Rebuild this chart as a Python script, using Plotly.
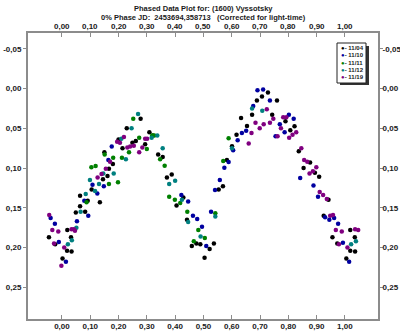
import plotly.graph_objects as go

# ---------------- data ----------------
series_names = ["11/04", "11/10", "11/11", "11/12", "11/19"]
series_colors = ["#000000", "#0000a0", "#008000", "#008080", "#800080"]

phase_1104 = [0.200, 0.214, 0.150, 0.180, 0.166, 0.161, 0.145, 0.105, 0.064, 0.091, 0.134, 0.064,
              0.049, 0.082, 0.019, -0.046, 0.032, -0.024, 0.018, 0.034, 0.002,
              0.278, 0.229, 0.309, 0.321, 0.261, 0.249, 0.294, 0.340, 0.356, 0.388, 0.371, 0.429,
              0.405, 0.442, 0.475, 0.489, 0.459, 0.504,
              0.728, 0.707, 0.689, 0.760, 0.672, 0.743, 0.633, 0.654, 0.617, 0.601, 0.583, 0.569,
              0.554, 0.537, 0.522,
              0.790, 0.822, 0.807, 0.837, 0.877, 0.854, 0.894, 0.909, 0.942, 0.925, 1.019, 0.956,
              1.035, 0.973, 1.019, 1.036, 1.005]
mag_1104 = [0.064, 0.075, 0.080, 0.095, 0.101, 0.110, 0.114, 0.127, 0.135, 0.141, 0.143, 0.148,
            0.156, 0.155, 0.178, 0.187, 0.187, 0.196, 0.204, 0.205, 0.214,
            0.038, 0.050, 0.055, 0.059, 0.066, 0.068, 0.070, 0.083, 0.086, 0.108, 0.112, 0.137,
            0.147, 0.165, 0.195, 0.196, 0.198, 0.213,
            0.005, 0.010, 0.015, 0.015, 0.033, 0.033, 0.037, 0.047, 0.058, 0.0725, 0.090, 0.123,
            0.127, 0.195, 0.202,
            0.041, 0.0475, 0.0525, 0.079, 0.093, 0.100, 0.106, 0.111, 0.140, 0.160, 0.178, 0.187,
            0.187, 0.195, 0.204, 0.205, 0.214]

phase_1110 = [0.176, 0.164, 0.108, 0.148, 0.125, 0.079, 0.093, -0.040, -0.025, 0.053, -0.011, 0.014,
              0.422, 0.446, 0.463, 0.478, 0.495,
              0.691, 0.711, 0.735, 0.676, 0.770, 0.651, 0.636, 0.755, 0.621, 0.605, 0.589, 0.574,
              0.558, 0.541, 0.527, 0.510,
              0.802, 0.819, 0.787, 0.842, 0.889, 0.905, 0.930, 0.962, 0.945, 0.976, 0.993, 1.015]
mag_1110 = [0.073, 0.090, 0.121, 0.123, 0.132, 0.141, 0.160, 0.163, 0.170, 0.167, 0.193, 0.218,
            0.134, 0.142, 0.160, 0.164, 0.174,
            0.002, 0.001, 0.015, 0.022, 0.045, 0.053, 0.056, 0.060, 0.065, 0.0775, 0.0925, 0.0996,
            0.115, 0.1275, 0.155, 0.198,
            0.033, 0.038, 0.055, 0.1125, 0.122, 0.136, 0.162, 0.163, 0.165, 0.170, 0.194, 0.218]

phase_1111 = [0.151, 0.181, 0.212, 0.104, 0.119, 0.166, 0.198, 0.087,
              0.252, 0.319, 0.326, 0.273, 0.300, 0.237, 0.347, 0.363, 0.379, 0.399, 0.418, 0.443,
              0.482, 0.466,
              0.589, 0.570, 0.542, 0.505]
mag_1111 = [0.083, 0.087, 0.087, 0.099, 0.0975, 0.120, 0.118, 0.143,
            0.038, 0.059, 0.059, 0.062, 0.076, 0.080, 0.089, 0.097, 0.136, 0.140, 0.144, 0.155,
            0.178, 0.192,
            0.0625, 0.091, 0.157, 0.188]

phase_1112 = [0.210, 0.146, 0.183, 0.099, 0.131, 0.117, 0.084, 0.066, 0.051, 0.035, 0.021,
              0.269, 0.246, 0.337, 0.317, 0.356, 0.226, 0.400, 0.379, 0.424, 0.446, 0.490,
              0.672, 0.708, 0.601, 0.542,
              1.039, 1.022]
mag_1112 = [0.063, 0.107, 0.107, 0.115, 0.120, 0.129, 0.1325, 0.155, 0.175, 0.191, 0.196,
            0.032, 0.050, 0.059, 0.062, 0.075, 0.089, 0.116, 0.120, 0.140, 0.168, 0.186,
            0.025, 0.028, 0.075, 0.161,
            0.192, 0.196]

phase_1119 = [0.219, 0.205, 0.195, 0.170, 0.155, 0.140, 0.126, -0.045, -0.034, -0.013, 0.034, 0.042,
              0.046, -0.028, 0.008, -0.002,
              0.294, 0.301, 0.254, 0.241, 0.231, 0.284, 0.273,
              0.724, 0.747, 0.782, 0.684, 0.713, 0.735, 0.774, 0.699, 0.670, 0.762, 0.660,
              0.793, 0.828, 0.815, 0.803, 0.846, 0.856, 0.867, 0.899, 0.887, 0.875, 0.911, 0.923,
              0.936, 0.948, 0.958, 0.968, 0.989, 1.036, 1.047, 0.979, 1.009]
mag_1119 = [0.061, 0.068, 0.067, 0.092, 0.101, 0.1075, 0.112, 0.159, 0.178, 0.180, 0.177, 0.177,
            0.179, 0.195, 0.200, 0.223,
            0.063, 0.063, 0.072, 0.073, 0.074, 0.074, 0.080,
            0.026, 0.038, 0.036, 0.043, 0.045, 0.043, 0.050, 0.050, 0.056, 0.060, 0.069,
            0.036, 0.055, 0.058, 0.062, 0.075, 0.090, 0.092, 0.099, 0.104, 0.107, 0.130, 0.134,
            0.139, 0.160, 0.159, 0.178, 0.180, 0.177, 0.178, 0.196, 0.200]

x_tick_vals = [0.0, 0.1, 0.2, 0.3, 0.4, 0.5, 0.6, 0.7, 0.8, 0.9, 1.0]
x_tick_text = ["0,00", "0,10", "0,20", "0,30", "0,40", "0,50", "0,60", "0,70", "0,80", "0,90", "1,00"]
y_tick_vals = [-0.05, 0.0, 0.05, 0.10, 0.15, 0.20, 0.25]
y_tick_text = ["-0,05", "0,00", "0,05", "0,10", "0,15", "0,20", "0,25"]

title_line1 = "Phased Data Plot for: (1600) Vyssotsky"
title_line2 = "0% Phase JD:\u00a0 2453694,358713\u00a0\u00a0 (Corrected for light-time)"

x_range = [-0.12, 1.117]
y_range = [0.29, -0.07]

# ---------------- figure ----------------
phases = [phase_1104, phase_1110, phase_1111, phase_1112, phase_1119]
mags = [mag_1104, mag_1110, mag_1111, mag_1112, mag_1119]

FONT = "Liberation Sans"
fig = go.Figure()
for name, col, xs, ys in zip(series_names, series_colors, phases, mags):
    fig.add_trace(go.Scatter(x=xs, y=ys, mode="markers", name=name, showlegend=False,
                             marker=dict(color=col, size=4.5, line=dict(width=0))))
# empty trace to activate the mirrored (top/right) axes
fig.add_trace(go.Scatter(x=[], y=[], xaxis="x2", yaxis="y2", showlegend=False, hoverinfo="skip"))

tickfont = dict(family=FONT, size=8, color="#1a1a1a", weight="bold")
axis_common = dict(showline=True, linecolor="#8c8c8c", linewidth=2, showgrid=False,
                   zeroline=False, tickcolor="#8c8c8c", tickwidth=1,
                   tickfont=tickfont, automargin=False)

fig.update_layout(
    template="none",
    width=400, height=335,
    margin=dict(l=28, r=22, t=33, b=16, autoexpand=False),
    paper_bgcolor="white", plot_bgcolor="white",
    showlegend=False,
    xaxis=dict(range=x_range, tickmode="array", tickvals=x_tick_vals, ticktext=x_tick_text,
               ticks="inside", ticklen=4, side="bottom", ticklabelstandoff=-2, **axis_common),
    yaxis=dict(range=y_range, tickmode="array", tickvals=y_tick_vals, ticktext=y_tick_text,
               ticks="outside", ticklen=3, side="left", **axis_common),
    xaxis2=dict(range=x_range, tickmode="array", tickvals=x_tick_vals,
                ticks="inside", ticklen=4, side="top", overlaying="x", anchor="y2",
                showticklabels=False, **axis_common),
    yaxis2=dict(range=y_range, tickmode="array", tickvals=y_tick_vals, ticktext=y_tick_text,
                ticks="outside", ticklen=3, side="right", overlaying="y", anchor="x2",
                ticklabelstandoff=-2, **axis_common),
)

# top tick labels (placed with the x axis scale)
for v, t in zip(x_tick_vals, x_tick_text):
    fig.add_annotation(text=t, xref="x", yref="paper", x=v, y=1.021,
                       showarrow=False, xanchor="center", yanchor="middle",
                       font=tickfont)

# title lines
fig.add_annotation(text=title_line1, xref="paper", yref="paper", x=0.5, y=1.086,
                   showarrow=False, xanchor="center", yanchor="middle",
                   font=dict(family=FONT, size=7.5, color="#1a1a1a", weight="bold"))
fig.add_annotation(text=title_line2, xref="paper", yref="paper", x=0.5, y=1.053,
                   showarrow=False, xanchor="center", yanchor="middle",
                   font=dict(family=FONT, size=7.5, color="#1a1a1a", weight="bold"))

# legend box (manual, drawn in paper coordinates)
def px_x(p):
    return (p - 28) / 350.0

def px_y(p):
    return (319 - p) / 286.0

fig.add_shape(type="rect", xref="paper", yref="paper", x0=px_x(340), x1=px_x(369),
              y0=px_y(85), y1=px_y(46), fillcolor="#333333", line=dict(width=0), layer="above")
fig.add_shape(type="rect", xref="paper", yref="paper", x0=px_x(337), x1=px_x(366),
              y0=px_y(83), y1=px_y(43), fillcolor="white", line=dict(color="#222222", width=1),
              layer="above")
for i, (name, col) in enumerate(zip(series_names, series_colors)):
    fig.add_annotation(text=f"<span style='color:{col}'>\u25cf</span>-\u00a0{name}",
                       xref="paper", yref="paper", x=px_x(338.5), y=px_y(48 + 7.3 * i),
                       showarrow=False, xanchor="left", yanchor="middle",
                       font=dict(family=FONT, size=6, color="#1a1a1a", weight="bold"))

fig.write_html("out.html", config={"displayModeBar": False},
               post_script="document.body.style.margin='0';document.body.style.overflow='hidden';")
